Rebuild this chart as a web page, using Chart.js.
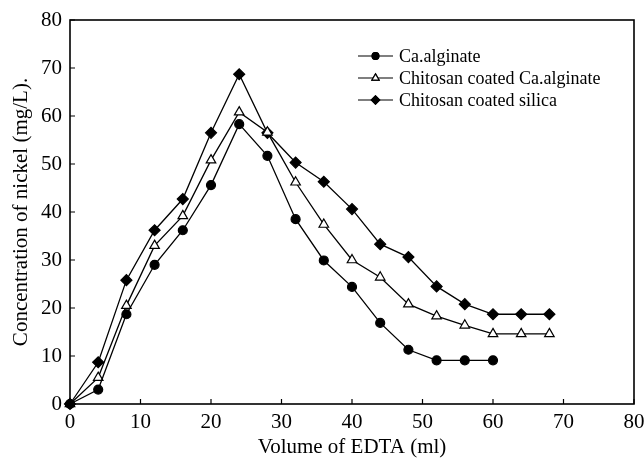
<!DOCTYPE html>
<html>
<head>
<meta charset="utf-8">
<script src="https://cdn.jsdelivr.net/npm/chart.js@4/dist/chart.umd.min.js"></script>
<style>
  body { margin: 0; background: #fff; }
  #wrap { width: 644px; height: 460px; }
</style>
</head>
<body>
<div id="wrap"><canvas id="nickel-chart"></canvas></div>
<script>
// volume of EDTA (ml)
const volAlginate = [0, 4, 8, 12, 16, 20, 24, 28, 32, 36, 40, 44, 48, 52, 56, 60];
const volCoated = [0, 4, 8, 12, 16, 20, 24, 28, 32, 36, 40, 44, 48, 52, 56, 60, 64, 68];

// nickel concentration (mg/L)
const caAlginate = [0, 3, 18.7, 29, 36.2, 45.6, 58.3, 51.7, 38.5, 29.9, 24.4, 16.9, 11.3, 9.1, 9.1, 9.1];
const chitosanAlginate = [0, 5.5, 20.5, 33, 39.2, 50.8, 60.8, 56.6, 46.2, 37.4, 30, 26.4, 20.8, 18.3, 16.4, 14.6, 14.6, 14.6];
const chitosanSilica = [0, 8.7, 25.8, 36.2, 42.7, 56.5, 68.7, 56.5, 50.3, 46.3, 40.6, 33.3, 30.6, 24.5, 20.8, 18.7, 18.7, 18.7];

const seriesNames = ['Ca.alginate', 'Chitosan coated Ca.alginate', 'Chitosan coated silica'];
const xTicks = [0, 10, 20, 30, 40, 50, 60, 70, 80];
const yTicks = [0, 10, 20, 30, 40, 50, 60, 70, 80];

const serif = 'Liberation Serif, Times New Roman, serif';

function toPoints(xs, ys) {
    return xs.map((x, i) => ({ x: x, y: ys[i] }));
}

// --- box and inward tick marks ---
const frame = {
    id: 'frame',
    afterDraw(chart) {
        const ctx = chart.ctx;
        const a = chart.chartArea;
        const sx = chart.scales.x, sy = chart.scales.y;
        ctx.save();
        ctx.strokeStyle = '#000';
        ctx.lineWidth = 1.6;
        ctx.strokeRect(a.left, a.top, a.right - a.left, a.bottom - a.top);
        ctx.lineWidth = 1.2;
        ctx.beginPath();
        xTicks.forEach(v => {
            const px = sx.getPixelForValue(v);
            ctx.moveTo(px, a.bottom);
            ctx.lineTo(px, a.bottom - 5);
        });
        yTicks.forEach(v => {
            const py = sy.getPixelForValue(v);
            ctx.moveTo(a.left, py);
            ctx.lineTo(a.left + 5, py);
        });
        ctx.stroke();
        ctx.restore();
    }
};

// --- legend drawn inside the plot ---
const insideLegend = {
    id: 'insideLegend',
    afterDatasetsDraw(chart) {
        const ctx = chart.ctx;
        ctx.save();
        chart.data.datasets.forEach((ds, i) => {
            const y = 56 + i * 22;
            ctx.strokeStyle = '#000';
            ctx.lineWidth = 1.2;
            ctx.beginPath();
            ctx.moveTo(358, y);
            ctx.lineTo(393, y);
            ctx.stroke();
            Chart.helpers.drawPoint(ctx, {
                pointStyle: ds.pointStyle,
                radius: ds.pointRadius * 0.75,
                borderWidth: ds.pointBorderWidth
            }, 375.5, y);
            ctx.fillStyle = ds.pointBackgroundColor;
            ctx.fill();
            ctx.stroke();
            ctx.fillStyle = '#000';
            ctx.font = '18px ' + serif;
            ctx.textBaseline = 'middle';
            ctx.textAlign = 'left';
            ctx.fillText(ds.label, 399, y + 1);
        });
        ctx.restore();
    }
};

const common = {
    borderColor: '#000',
    borderWidth: 1.3,
    pointBorderColor: '#000',
    pointBorderWidth: 1.2,
    showLine: true,
    tension: 0,
    clip: false
};

new Chart(document.getElementById('nickel-chart'), {
    type: 'scatter',
    data: {
        datasets: [
            Object.assign({}, common, {
                label: seriesNames[0],
                data: toPoints(volAlginate, caAlginate),
                pointStyle: 'circle', pointRadius: 4.5,
                pointBackgroundColor: '#000'
            }),
            Object.assign({}, common, {
                label: seriesNames[1],
                data: toPoints(volCoated, chitosanAlginate),
                pointStyle: 'triangle', pointRadius: 5.5,
                pointBackgroundColor: '#fff'
            }),
            Object.assign({}, common, {
                label: seriesNames[2],
                data: toPoints(volCoated, chitosanSilica),
                pointStyle: 'rectRot', pointRadius: 5.5,
                pointBackgroundColor: '#000'
            })
        ]
    },
    options: {
        responsive: true,
        maintainAspectRatio: false,
        animation: false,
        layout: { padding: { left: 9, right: 10, top: 20, bottom: 0 } },
        plugins: {
            legend: { display: false },
            tooltip: { enabled: false }
        },
        scales: {
            x: {
                type: 'linear', min: 0, max: 80,
                afterBuildTicks: s => { s.ticks = xTicks.map(v => ({ value: v })); },
                afterFit: s => { s.height = 56; s.paddingLeft = 0; s.paddingRight = 0; },
                grid: { display: false, drawTicks: false },
                border: { display: false },
                ticks: { color: '#000', font: { family: serif, size: 21 }, padding: 6, maxRotation: 0 },
                title: { display: true, text: 'Volume of EDTA (ml)', color: '#000', font: { family: serif, size: 21 }, padding: { top: 0, bottom: 0 } }
            },
            y: {
                type: 'linear', min: 0, max: 80,
                afterBuildTicks: s => { s.ticks = yTicks.map(v => ({ value: v })); },
                afterFit: s => { s.width = 61; s.paddingTop = 0; s.paddingBottom = 0; },
                grid: { display: false, drawTicks: false },
                border: { display: false },
                ticks: { color: '#000', font: { family: serif, size: 21 }, padding: 8 },
                title: { display: true, text: 'Concentration of nickel (mg/L).', color: '#000', font: { family: serif, size: 21 }, padding: { top: 0, bottom: 0 } }
            }
        }
    },
    plugins: [frame, insideLegend]
});
</script>
</body>
</html>
